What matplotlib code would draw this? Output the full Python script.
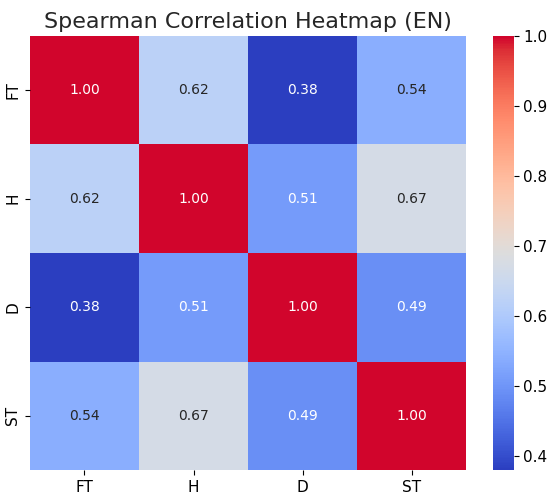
import matplotlib
matplotlib.use("Agg")
import matplotlib.pyplot as plt
import matplotlib.colors as mcolors
import seaborn as sns
import numpy as np
import pandas as pd

labels = ["FT", "H", "D", "ST"]
row_ft = [1.00, 0.62, 0.38, 0.54]
row_h = [0.62, 1.00, 0.51, 0.67]
row_d = [0.38, 0.51, 1.00, 0.49]
row_st = [0.54, 0.67, 0.49, 1.00]

df = pd.DataFrame([row_ft, row_h, row_d, row_st], index=labels, columns=labels)

# slightly more vivid version of coolwarm (as in the reference image)
t = np.linspace(0, 1, 256)
base = plt.get_cmap("coolwarm")(t)[:, :3]
hsv = mcolors.rgb_to_hsv(base)
red_w = np.clip(2 * t - 1, 0, 1)
blue_w = np.clip(1 - 2 * t, 0, 1)
hsv[:, 1] = np.clip(hsv[:, 1] * (1 + 0.12 * blue_w), 0, 1)
hsv[:, 2] = np.clip(hsv[:, 2] * (1 + 0.16 * red_w ** 1.5), 0, 1)
vivid = mcolors.ListedColormap(mcolors.hsv_to_rgb(hsv), name="vivid_coolwarm")

fig = plt.figure(figsize=(5.5, 4.98), dpi=100)
ax = fig.add_axes([0.0545, 0.056, 0.793, 0.872])
cax = fig.add_axes([0.896, 0.056, 0.038, 0.872])
sns.heatmap(df, annot=True, fmt=".2f", cmap=vivid, ax=ax, cbar_ax=cax,
            annot_kws={"size": 10})
ax.set_title("Spearman Correlation Heatmap (EN)", fontsize=16, color="#262626")
ax.tick_params(labelsize=11)
cax.tick_params(labelsize=11)
fig.savefig("out.png", dpi=100)
